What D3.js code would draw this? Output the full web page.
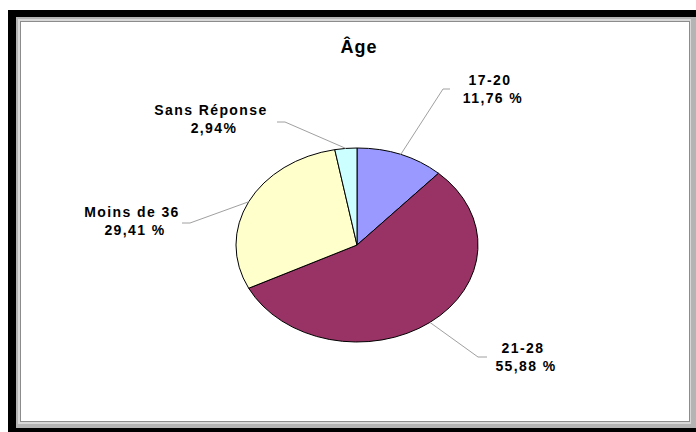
<!DOCTYPE html>
<html>
<head>
<meta charset="utf-8">
<script src="https://cdn.jsdelivr.net/npm/d3@7"></script>
<style>
html,body{margin:0;padding:0;background:#fff;}
svg{display:block;}
text{font-family:"Liberation Sans",Arial,sans-serif;font-weight:bold;fill:#000;}
</style>
</head>
<body>
<svg id="chart" width="696" height="432"></svg>
<script>
const title = "Âge";
const categories = ["17-20", "21-28", "Moins de 36", "Sans Réponse"];
const values = [11.76, 55.88, 29.41, 2.94];
const valueLabels = ["11,76 %", "55,88 %", "29,41 %", "2,94%"];
const colors = ["#9999FF", "#993366", "#FFFFCC", "#CCFFFF"];

const svg = d3.select("#chart");

// Frame: black outer border, gray bevel, white plot area
svg.append("rect").attr("x", 8).attr("y", 10).attr("width", 700).attr("height", 440).attr("fill", "#000");
svg.append("rect").attr("x", 16).attr("y", 17).attr("width", 690).attr("height", 411).attr("fill", "#b4b4b4");
svg.append("rect").attr("x", 18).attr("y", 19).attr("width", 673).attr("height", 405).attr("fill", "#d8d8d8");
svg.append("rect").attr("x", 20.5).attr("y", 21.5).attr("width", 669).attr("height", 400).attr("fill", "#fff").attr("stroke", "#8c8c8c").attr("stroke-width", 1);

// Title
svg.append("text").attr("x", 359).attr("y", 53).attr("text-anchor", "middle")
  .style("font-size", "18px").style("letter-spacing", "1px").text(title);

// Pie (elliptical)
const cx = 357, cy = 245, rx = 121, ry = 97;
const pie = d3.pie().sort(null).value(d => d)(values);
const arc = d3.arc().innerRadius(0).outerRadius(rx);
const pg = svg.append("g").attr("transform", `translate(${cx},${cy}) scale(1,${ry / rx})`);
pg.selectAll("path").data(pie).join("path")
  .attr("d", arc)
  .attr("fill", (d, i) => colors[i])
  .attr("stroke", "#000").attr("stroke-width", 1)
  .attr("vector-effect", "non-scaling-stroke");

// Leader lines and labels
const labelLayout = [
  {elbow: [443, 89], end: [450, 89], tx: 490, ty: 85},
  {elbow: [478, 357], end: [487, 357], tx: 523, ty: 353},
  {elbow: [190, 223], end: [182, 223], tx: 132, ty: 217},
  {elbow: [285, 122], end: [277, 122], tx: 211, ty: 115}
];
pie.forEach((d, i) => {
  const a = (d.startAngle + d.endAngle) / 2;
  const px = cx + rx * Math.sin(a), py = cy - ry * Math.cos(a);
  const L = labelLayout[i];
  svg.append("path")
    .attr("d", d3.line()([[px, py], L.elbow, L.end]))
    .attr("fill", "none").attr("stroke", "#a0a0a0").attr("stroke-width", 1);
  const t = svg.append("text").attr("text-anchor", "middle").style("font-size", "14px").style("letter-spacing", "1.4px");
  t.append("tspan").attr("x", L.tx).attr("y", L.ty).text(categories[i]);
  t.append("tspan").attr("x", L.tx + 3).attr("y", L.ty + 18).text(valueLabels[i]);
});
</script>
</body>
</html>
